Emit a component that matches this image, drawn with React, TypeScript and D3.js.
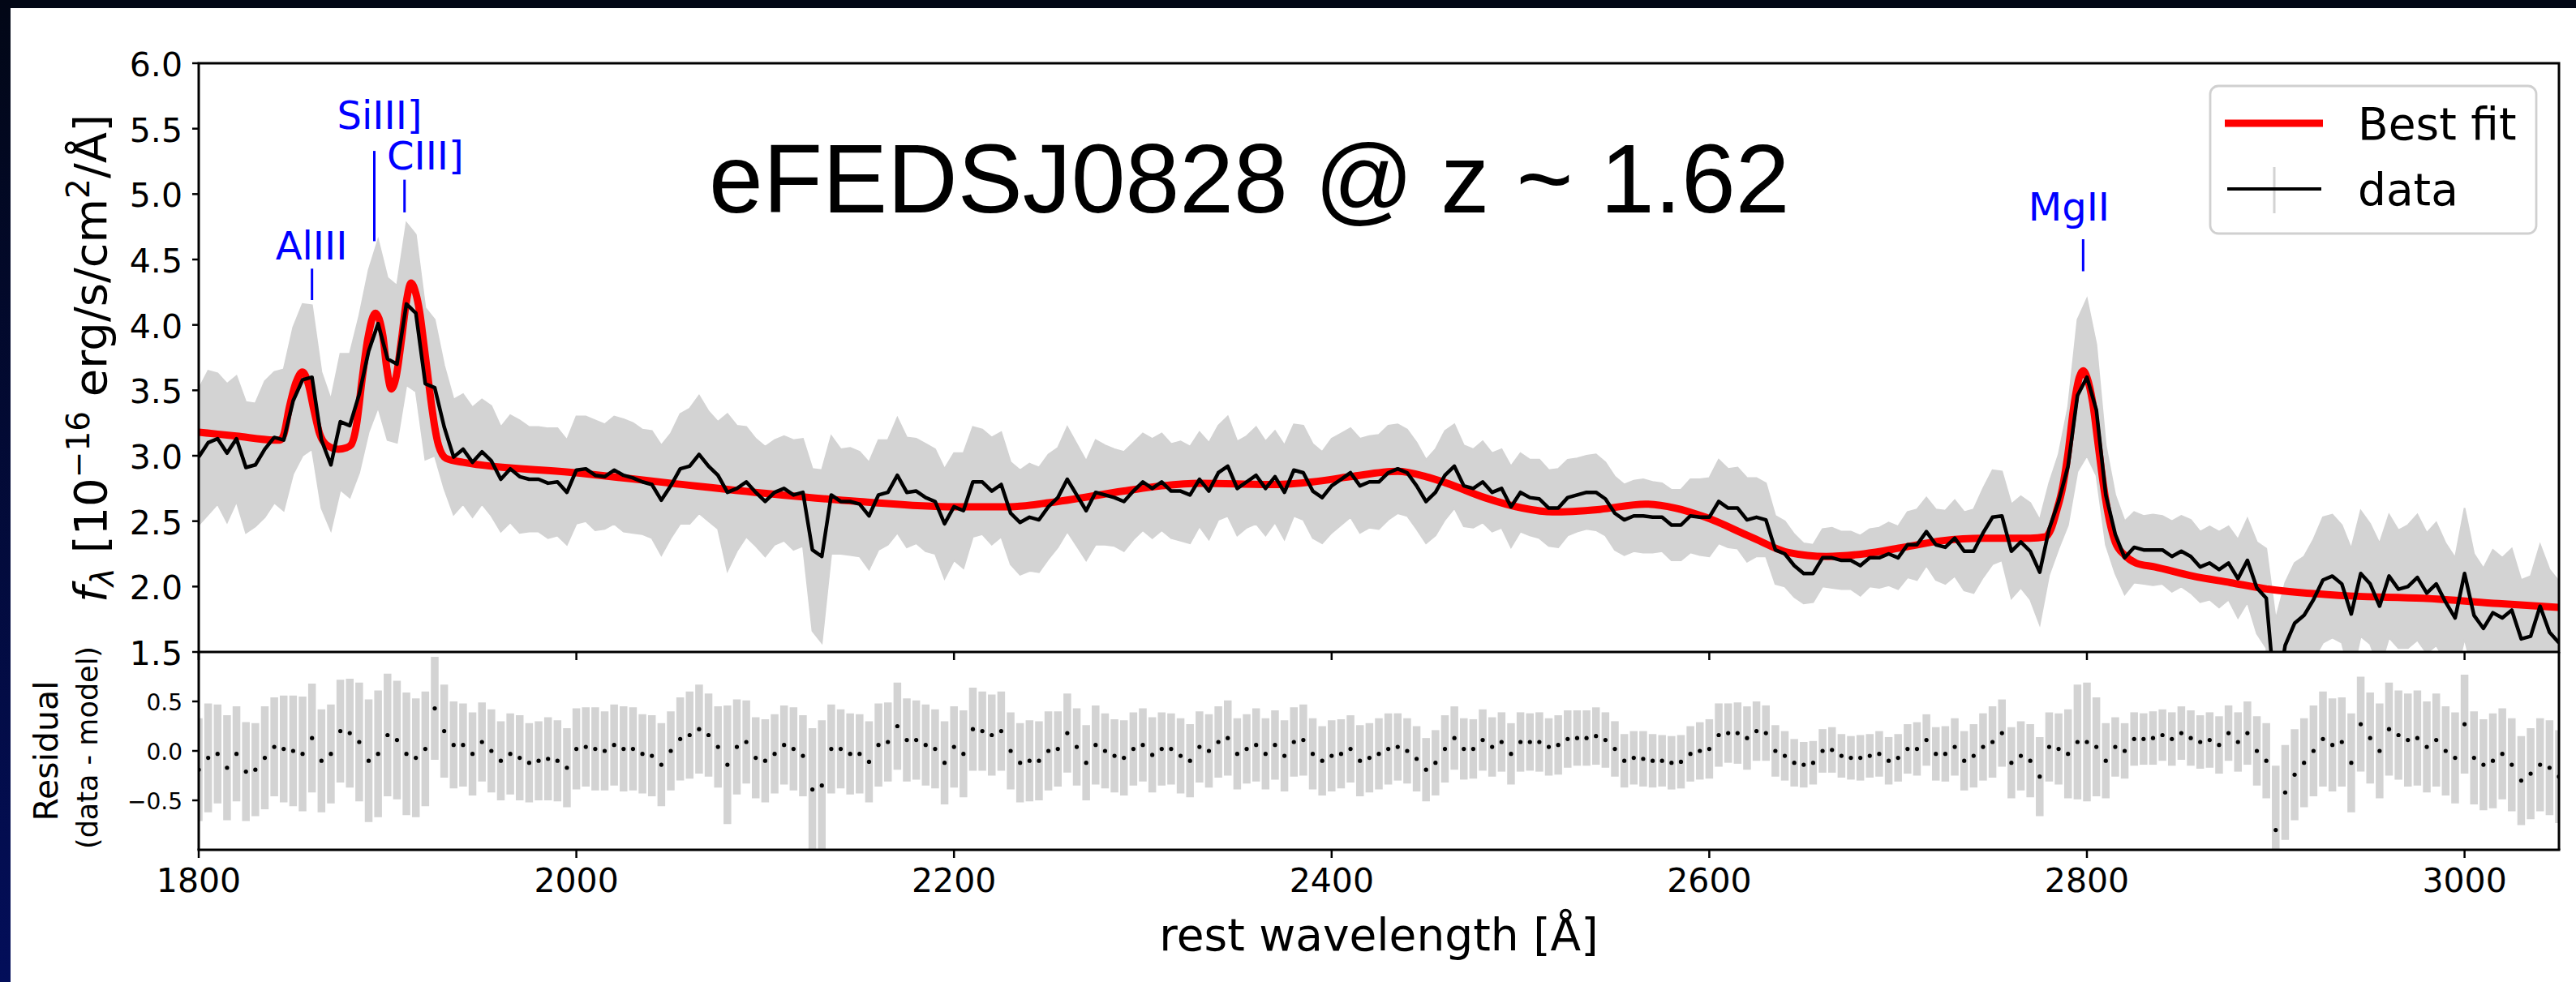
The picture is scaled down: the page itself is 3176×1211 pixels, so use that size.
import React, { useEffect } from "react";
import * as d3 from "d3";

// ---------------- data ----------------
const WAVE_START = 1800; // Å, first sample
const WAVE_STEP = 5; // Å between samples

// observed flux density [1e-16 erg/s/cm2/Å], one value per 5 Å from 1800 to 3050
const FLUX = [
  2.99, 3.10, 3.13, 3.02, 3.13, 2.91, 2.93, 3.05, 3.14, 3.12,
  3.42, 3.58, 3.60, 3.12, 2.93, 3.26, 3.23, 3.47, 3.80, 4.01,
  3.74, 3.70, 4.16, 4.09, 3.55, 3.52, 3.22, 2.99, 3.05, 2.95,
  3.03, 2.96, 2.82, 2.90, 2.84, 2.82, 2.82, 2.79, 2.80, 2.72,
  2.89, 2.90, 2.85, 2.84, 2.89, 2.85, 2.83, 2.80, 2.78, 2.66,
  2.77, 2.90, 2.92, 3.01, 2.92, 2.85, 2.72, 2.75, 2.80, 2.72,
  2.65, 2.72, 2.75, 2.70, 2.72, 2.28, 2.23, 2.70, 2.65, 2.65,
  2.63, 2.54, 2.70, 2.72, 2.85, 2.72, 2.73, 2.68, 2.65, 2.48,
  2.61, 2.58, 2.80, 2.80, 2.73, 2.78, 2.56, 2.49, 2.53, 2.51,
  2.61, 2.68, 2.82, 2.70, 2.58, 2.72, 2.70, 2.68, 2.65, 2.73,
  2.80, 2.75, 2.80, 2.73, 2.73, 2.70, 2.82, 2.73, 2.87, 2.92,
  2.75, 2.80, 2.85, 2.75, 2.84, 2.72, 2.89, 2.87, 2.73, 2.68,
  2.77, 2.82, 2.87, 2.77, 2.80, 2.80, 2.87, 2.90, 2.87, 2.77,
  2.65, 2.72, 2.85, 2.92, 2.77, 2.75, 2.80, 2.72, 2.75, 2.61,
  2.72, 2.68, 2.67, 2.60, 2.60, 2.68, 2.70, 2.72, 2.72, 2.67,
  2.56, 2.51, 2.54, 2.54, 2.53, 2.53, 2.47, 2.47, 2.54, 2.53,
  2.53, 2.65, 2.60, 2.60, 2.51, 2.53, 2.51, 2.28, 2.25, 2.16,
  2.10, 2.10, 2.22, 2.22, 2.20, 2.20, 2.16, 2.22, 2.22, 2.25,
  2.22, 2.32, 2.32, 2.42, 2.32, 2.30, 2.37, 2.27, 2.27, 2.41,
  2.53, 2.54, 2.27, 2.34, 2.27, 2.11, 2.44, 2.65, 2.92, 3.46,
  3.60, 3.35, 2.70, 2.40, 2.22, 2.30, 2.28, 2.28, 2.28, 2.23,
  2.27, 2.23, 2.15, 2.18, 2.13, 2.18, 2.06, 2.20, 1.99, 1.91,
  1.10, 1.55, 1.72, 1.78, 1.90, 2.05, 2.08, 2.02, 1.79, 2.10,
  2.02, 1.85, 2.08, 1.98, 2.00, 2.07, 1.95, 2.02, 1.88, 1.76,
  2.10, 1.78, 1.68, 1.80, 1.76, 1.82, 1.60, 1.62, 1.85, 1.65,
  1.57,
];

// 1-sigma flux error, same sampling
const FLUX_ERR = [
  0.52, 0.55, 0.50, 0.53, 0.48, 0.50, 0.47, 0.52, 0.50, 0.54,
  0.56, 0.58, 0.55, 0.52, 0.50, 0.52, 0.55, 0.60, 0.62, 0.64,
  0.62, 0.60, 0.62, 0.60, 0.58, 0.52, 0.47, 0.44, 0.42, 0.42,
  0.40, 0.42, 0.40, 0.41, 0.43, 0.40, 0.40, 0.42, 0.41, 0.40,
  0.41, 0.40, 0.42, 0.40, 0.41, 0.43, 0.42, 0.40, 0.41, 0.42,
  0.40, 0.42, 0.44, 0.45, 0.42, 0.41, 0.60, 0.48, 0.42, 0.41,
  0.42, 0.40, 0.40, 0.42, 0.41, 0.62, 0.66, 0.45, 0.40, 0.41,
  0.40, 0.41, 0.42, 0.40, 0.44, 0.42, 0.40, 0.41, 0.40, 0.42,
  0.41, 0.44, 0.42, 0.40, 0.41, 0.40, 0.39, 0.40, 0.41, 0.40,
  0.40, 0.38, 0.40, 0.39, 0.38, 0.40, 0.38, 0.37, 0.38, 0.37,
  0.37, 0.38, 0.37, 0.36, 0.38, 0.37, 0.36, 0.37, 0.36, 0.38,
  0.36, 0.35, 0.37, 0.36, 0.35, 0.36, 0.35, 0.36, 0.36, 0.35,
  0.36, 0.35, 0.34, 0.36, 0.35, 0.36, 0.36, 0.34, 0.33, 0.33,
  0.32, 0.33, 0.34, 0.32, 0.31, 0.30, 0.31, 0.30, 0.30, 0.31,
  0.30, 0.29, 0.30, 0.29, 0.30, 0.29, 0.28, 0.28, 0.29, 0.28,
  0.28, 0.27, 0.27, 0.28, 0.27, 0.26, 0.27, 0.27, 0.28, 0.29,
  0.30, 0.32, 0.30, 0.31, 0.32, 0.30, 0.28, 0.26, 0.25, 0.24,
  0.23, 0.22, 0.22, 0.23, 0.22, 0.22, 0.23, 0.22, 0.23, 0.24,
  0.24, 0.25, 0.27, 0.26, 0.27, 0.28, 0.29, 0.30, 0.32, 0.34,
  0.36, 0.34, 0.36, 0.35, 0.37, 0.40, 0.35, 0.36, 0.45, 0.58,
  0.60, 0.50, 0.38, 0.30, 0.28, 0.27, 0.26, 0.27, 0.26, 0.27,
  0.27, 0.28, 0.27, 0.28, 0.29, 0.28, 0.30, 0.32, 0.35, 0.38,
  0.65, 0.48, 0.46, 0.45, 0.46, 0.48, 0.47, 0.45, 0.50, 0.48,
  0.46, 0.48, 0.47, 0.45, 0.47, 0.48, 0.46, 0.47, 0.45, 0.46,
  0.50, 0.47, 0.46, 0.48, 0.46, 0.47, 0.45, 0.46, 0.47, 0.48,
  0.47,
];

// residual (data - model), same sampling
const RESIDUAL = [
  -0.19, -0.07, -0.03, -0.17, -0.03, -0.21, -0.19, -0.07, 0.04, 0.02,
  0.00, -0.03, 0.13, -0.10, -0.03, 0.20, 0.18, 0.09, -0.10, -0.03,
  0.16, 0.11, -0.03, -0.07, 0.02, 0.43, 0.20, 0.06, 0.06, -0.03,
  0.09, 0.00, -0.10, -0.03, -0.07, -0.12, -0.10, -0.08, -0.10, -0.17,
  0.02, 0.04, 0.02, 0.00, 0.06, 0.02, 0.02, -0.03, -0.05, -0.14,
  0.00, 0.12, 0.16, 0.22, 0.16, 0.04, -0.14, 0.04, 0.09, -0.07,
  -0.10, -0.03, 0.06, 0.02, -0.05, -0.39, -0.35, 0.02, 0.02, -0.03,
  -0.03, -0.11, 0.06, 0.09, 0.25, 0.11, 0.11, 0.06, 0.02, -0.12,
  0.04, -0.03, 0.22, 0.20, 0.16, 0.20, 0.00, -0.12, -0.10, -0.10,
  0.00, 0.02, 0.18, 0.04, -0.12, 0.06, 0.00, -0.05, -0.07, 0.02,
  0.06, -0.04, 0.02, 0.02, -0.05, -0.10, 0.04, 0.00, 0.09, 0.13,
  -0.03, 0.02, 0.06, -0.03, 0.06, -0.05, 0.09, 0.11, -0.03, -0.10,
  -0.05, -0.03, 0.02, -0.10, -0.07, -0.03, 0.02, 0.04, 0.00, -0.08,
  -0.19, -0.12, 0.02, 0.13, 0.02, 0.02, 0.11, 0.04, 0.09, -0.03,
  0.09, 0.09, 0.09, 0.04, 0.06, 0.12, 0.13, 0.13, 0.15, 0.11,
  0.02, -0.10, -0.07, -0.08, -0.10, -0.10, -0.12, -0.11, -0.03, 0.00,
  0.02, 0.16, 0.18, 0.18, 0.13, 0.20, 0.18, 0.00, -0.05, -0.12,
  -0.14, -0.12, 0.00, 0.01, -0.05, -0.07, -0.07, -0.05, -0.03, -0.10,
  -0.07, 0.02, 0.02, 0.11, -0.03, -0.03, 0.04, -0.10, -0.05, 0.04,
  0.09, 0.18, -0.12, -0.05, -0.10, -0.26, 0.04, 0.02, -0.03, 0.09,
  0.09, 0.04, -0.10, 0.04, 0.00, 0.12, 0.12, 0.13, 0.16, 0.12,
  0.18, 0.13, 0.09, 0.11, 0.06, 0.18, 0.09, 0.18, 0.00, -0.10,
  -0.80, -0.42, -0.24, -0.12, 0.00, 0.12, 0.06, 0.09, -0.12, 0.27,
  0.13, 0.00, 0.22, 0.16, 0.11, 0.13, 0.04, 0.11, 0.00, -0.07,
  0.27, -0.07, -0.14, -0.10, -0.03, -0.14, -0.30, -0.23, -0.14, -0.17,
  -0.26,
];

// best-fit model read at knots (wavelength, flux)
const MODEL_WAVE = [
  1800, 1820, 1840, 1843, 1845, 1848, 1851.5, 1855, 1858, 1861, 1864, 1868, 1874,
  1878, 1880.5, 1883.5, 1886.5, 1889.5, 1893.5, 1897.5, 1899.5, 1902, 1904.5,
  1907.5, 1910, 1912.5, 1915, 1917, 1919, 1921, 1923, 1925, 1927, 1931, 1940,
  2000, 2050, 2109, 2150, 2200, 2230, 2250, 2290, 2310, 2330, 2370, 2390, 2410,
  2435, 2450, 2461, 2481, 2501, 2517, 2542, 2566, 2582, 2598, 2622, 2642, 2662,
  2682, 2703, 2723, 2745, 2770, 2778, 2781, 2784, 2787, 2790, 2793, 2796, 2798,
  2800, 2803, 2806, 2809, 2812, 2815, 2820, 2826, 2836, 2856, 2876, 2896, 2937,
  2978, 3018, 3050,
];
const MODEL_FLUX = [
  3.18, 3.15, 3.12, 3.12, 3.16, 3.37, 3.56, 3.64, 3.55, 3.35, 3.17, 3.08, 3.05,
  3.06, 3.08, 3.23, 3.58, 3.89, 4.09, 3.92, 3.68, 3.51, 3.60,
  3.90, 4.18, 4.32, 4.24, 4.10, 3.88, 3.65, 3.42, 3.22, 3.08, 2.98, 2.95,
  2.87, 2.79, 2.70, 2.65, 2.61, 2.61, 2.64, 2.73, 2.77, 2.79, 2.78, 2.80, 2.84,
  2.88, 2.84, 2.79, 2.68, 2.60, 2.57, 2.59, 2.63, 2.60, 2.53, 2.38, 2.26, 2.23,
  2.25, 2.30, 2.35, 2.37, 2.37, 2.38, 2.44, 2.58, 2.75, 3.02, 3.37, 3.60, 3.65,
  3.60, 3.41, 3.08, 2.75, 2.50, 2.34, 2.24, 2.18, 2.15, 2.08, 2.03, 1.98, 1.93,
  1.91, 1.87, 1.84,
];

// emission-line markers
const LINE_NAMES = ["AlIII", "SiIII]", "CIII]", "MgII"];
const LINE_WAVES = [1860, 1893, 1909, 2798];
const LINE_LABEL_WAVES = [1859.7, 1895.8, 1920, 2790.5];
const LINE_LABEL_FLUX = [4.5, 5.5, 5.19, 4.8];
const LINE_MARK_TOP = [4.43, 5.33, 5.11, 4.655];
const LINE_MARK_BOTTOM = [4.19, 4.64, 4.86, 4.41];

const X_TICKS = [1800, 2000, 2200, 2400, 2600, 2800, 3000];
const Y_TICKS = [1.5, 2.0, 2.5, 3.0, 3.5, 4.0, 4.5, 5.0, 5.5, 6.0];
const Y_TICK_LABELS = ["1.5", "2.0", "2.5", "3.0", "3.5", "4.0", "4.5", "5.0", "5.5", "6.0"];
const RES_TICKS = [-0.5, 0.0, 0.5];
const RES_TICK_LABELS = ["\u22120.5", "0.0", "0.5"];

const TITLE = "eFEDSJ0828 @ z ~ 1.62";
const LEGEND_LABELS = ["Best fit", "data"];

// ---------------- chart ----------------
const W = 3176;
const H = 1211;
const L = 245;
const R = 3155;
const MT = 78;
const MB = 804;
const RB = 1048;
const FONT = "'DejaVu Sans', sans-serif";
const GRAY = "#d3d3d3";

export default function App() {
  useEffect(() => {
    document.body.style.margin = "0";
    document.body.style.overflow = "hidden";
  }, []);

  const x = d3.scaleLinear().domain([1800, 3050]).range([L, R]);
  const y = d3.scaleLinear().domain([1.5, 6.0]).range([MB, MT]);
  const yr = d3.scaleLinear().domain([-1, 1]).range([RB, MB]);

  const pts = FLUX.map((f, i) => ({
    w: WAVE_START + i * WAVE_STEP,
    f,
    e: FLUX_ERR[i],
    r: RESIDUAL[i],
  }));

  const band = d3
    .area<any>()
    .x((d) => x(d.w))
    .y0((d) => y(d.f - d.e))
    .y1((d) => y(d.f + d.e))
    .curve(d3.curveLinear)(pts) as string;

  const dataLine = d3
    .line<any>()
    .x((d) => x(d.w))
    .y((d) => y(d.f))(pts) as string;

  const modelLine = d3
    .line<number>()
    .x((_, i) => x(MODEL_WAVE[i]))
    .y((d) => y(d))
    .curve(d3.curveMonotoneX)(MODEL_FLUX) as string;

  return (
    <svg
      width={W}
      height={H}
      style={{ position: "absolute", left: 0, top: 0, display: "block" }}
      xmlns="http://www.w3.org/2000/svg"
    >
      <defs>
        <linearGradient id="sideGrad" x1="0" y1="0" x2="0" y2="1">
          <stop offset="0" stopColor="#020716" />
          <stop offset="1" stopColor="#030e5a" />
        </linearGradient>
        <clipPath id="clipMain">
          <rect x={L} y={MT} width={R - L} height={MB - MT} />
        </clipPath>
        <clipPath id="clipRes">
          <rect x={L} y={MB} width={R - L} height={RB - MB} />
        </clipPath>
      </defs>

      <rect x={0} y={0} width={W} height={H} fill="#ffffff" />
      <rect x={0} y={0} width={W} height={10} fill="#020816" />
      <rect x={0} y={0} width={13} height={H} fill="url(#sideGrad)" />

      {/* main panel */}
      <g clipPath="url(#clipMain)">
        <path d={band} fill={GRAY} stroke={GRAY} strokeWidth={2} strokeLinejoin="miter" />
        <path d={modelLine} fill="none" stroke="#ff0000" strokeWidth={9} strokeLinejoin="round" />
        <path d={dataLine} fill="none" stroke="#000000" strokeWidth={4.5} strokeLinejoin="round" />
      </g>

      {/* residual panel */}
      <g clipPath="url(#clipRes)">
        {pts.map((d, i) => (
          <line
            key={"re" + i}
            x1={x(d.w)}
            x2={x(d.w)}
            y1={yr(d.r - d.e)}
            y2={yr(d.r + d.e)}
            stroke={GRAY}
            strokeWidth={9.5}
          />
        ))}
        {pts.map((d, i) => (
          <circle key={"rd" + i} cx={x(d.w)} cy={yr(d.r)} r={2.6} fill="#000" />
        ))}
      </g>

      {/* line annotations */}
      {LINE_NAMES.map((n, i) => (
        <g key={n}>
          <line
            x1={x(LINE_WAVES[i])}
            x2={x(LINE_WAVES[i])}
            y1={y(LINE_MARK_TOP[i])}
            y2={y(LINE_MARK_BOTTOM[i])}
            stroke="#0000ff"
            strokeWidth={3}
          />
          <text
            x={x(LINE_LABEL_WAVES[i])}
            y={y(LINE_LABEL_FLUX[i])}
            fill="#0000ff"
            fontFamily={FONT}
            fontSize={48}
            textAnchor="middle"
          >
            {n}
          </text>
        </g>
      ))}

      {/* title */}
      <text x={874} y={262} fontFamily="'Liberation Sans', Arial, sans-serif" fontSize={120} fill="#000">
        {TITLE}
      </text>

      {/* legend */}
      <g>
        <rect x={2725} y={106} width={402} height={182} rx={10} ry={10} fill="#ffffff" fillOpacity={0.85} stroke="#d0d0d0" strokeWidth={2.8} />
        <line x1={2743} x2={2864} y1={152} y2={152} stroke="#ff0000" strokeWidth={9} />
        <text x={2907} y={172} fontFamily={FONT} fontSize={55} fill="#000">
          {LEGEND_LABELS[0]}
        </text>
        <line x1={2804} x2={2804} y1={206} y2={263} stroke={GRAY} strokeWidth={3} />
        <line x1={2746} x2={2862} y1={233} y2={233} stroke="#000" strokeWidth={4} />
        <text x={2907} y={253} fontFamily={FONT} fontSize={55} fill="#000">
          {LEGEND_LABELS[1]}
        </text>
      </g>

      {/* axes: spines */}
      <rect x={L} y={MT} width={R - L} height={MB - MT} fill="none" stroke="#000" strokeWidth={3} />
      <line x1={L} x2={L} y1={MB} y2={RB} stroke="#000" strokeWidth={3} />
      <line x1={R} x2={R} y1={MB} y2={RB} stroke="#000" strokeWidth={3} />
      <line x1={L - 1.5} x2={R + 1.5} y1={RB} y2={RB} stroke="#000" strokeWidth={3} />

      {/* main y ticks */}
      {Y_TICKS.map((t, i) => (
        <g key={"yt" + i}>
          <line x1={L - 8} x2={L} y1={y(t)} y2={y(t)} stroke="#000" strokeWidth={2.5} />
          <text x={225} y={y(t) + 16} textAnchor="end" fontFamily={FONT} fontSize={41} fill="#000">
            {Y_TICK_LABELS[i]}
          </text>
        </g>
      ))}

      {/* residual y ticks */}
      {RES_TICKS.map((t, i) => (
        <g key={"rt" + i}>
          <line x1={L - 8} x2={L} y1={yr(t)} y2={yr(t)} stroke="#000" strokeWidth={2.5} />
          <text x={225} y={yr(t) + 11} textAnchor="end" fontFamily={FONT} fontSize={28} fill="#000">
            {RES_TICK_LABELS[i]}
          </text>
        </g>
      ))}

      {/* x ticks */}
      {X_TICKS.map((t, i) => (
        <g key={"xt" + i}>
          <line x1={x(t)} x2={x(t)} y1={MB} y2={MB + 10} stroke="#000" strokeWidth={2.5} />
          <line x1={x(t)} x2={x(t)} y1={RB} y2={RB + 10} stroke="#000" strokeWidth={2.5} />
          <text x={x(t)} y={1100} textAnchor="middle" fontFamily={FONT} fontSize={41} fill="#000">
            {String(t)}
          </text>
        </g>
      ))}

      {/* axis labels */}
      <text x={(L + R) / 2} y={1172} textAnchor="middle" fontFamily={FONT} fontSize={55} fill="#000">
        rest wavelength [Å]
      </text>

      <text
        transform={`translate(131, 442) rotate(-90)`}
        textAnchor="middle"
        fontFamily={FONT}
        fontSize={56}
        fill="#000"
        style={{ whiteSpace: "pre" }}
      >
        <tspan fontStyle="italic">f</tspan>
        <tspan fontStyle="italic" fontSize={39} dy={9}>λ</tspan>
        <tspan dy={-9}>{" [10"}</tspan>
        <tspan fontSize={39} dy={-21}>−16</tspan>
        <tspan dy={21}>{" erg/s/cm"}</tspan>
        <tspan fontSize={39} dy={-21}>2</tspan>
        <tspan dy={21}>/Å]</tspan>
      </text>

      <text transform={`translate(71, 926) rotate(-90)`} textAnchor="middle" fontFamily={FONT} fontSize={41} fill="#000">
        Residual
      </text>
      <text
        transform={`translate(120, 922) rotate(-90)`}
        textAnchor="middle"
        fontFamily={FONT}
        fontSize={35}
        fill="#000"
        style={{ whiteSpace: "pre" }}
      >
        (data - model)
      </text>
    </svg>
  );
}
